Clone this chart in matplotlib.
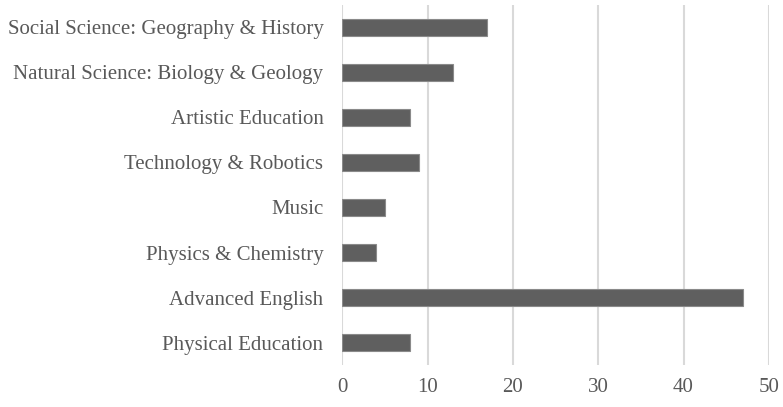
import numpy as np
import matplotlib.pyplot as plt

# subjects, bottom to top
subjects = ['Physical Education', 'Advanced English', 'Physics & Chemistry', 'Music',
            'Technology & Robotics', 'Artistic Education',
            'Natural Science: Biology & Geology', 'Social Science: Geography & History']
counts = [8, 47, 4, 5, 9, 8, 13, 17]

plt.rcParams['font.family'] = ['Liberation Serif', 'DejaVu Serif']

fig = plt.figure(figsize=(7.83, 4.07), dpi=100)
ax = fig.add_axes([0.437, 0.103, 0.545, 0.885])

y = np.arange(len(subjects))
ax.barh(y, counts, height=0.36, color='#5f5f5f', edgecolor='#8a8a8a', linewidth=0.8, zorder=3)

ax.set_xlim(0, 50)
ax.set_ylim(-0.5, len(subjects) - 0.5)
ax.set_xticks(np.arange(0, 51, 10))
ax.set_yticks(y)
ax.set_yticklabels(subjects)
ax.xaxis.grid(True, color='#d9d9d9', linewidth=1.5, zorder=0)
for s in ax.spines.values():
    s.set_visible(False)
ax.tick_params(axis='both', length=0, labelsize=15, labelcolor='#595959')
ax.tick_params(axis='x', pad=9)
ax.tick_params(axis='y', pad=13.5)

fig.savefig('out.png', dpi=100)
